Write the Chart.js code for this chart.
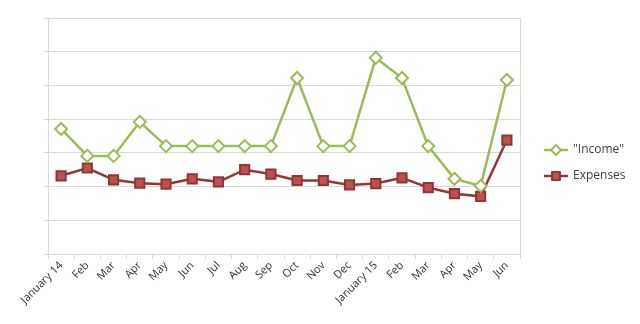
<!DOCTYPE html>
<html>
<head>
<meta charset="utf-8">
<script src="https://cdn.jsdelivr.net/npm/chart.js@4"></script>
<style>
  html, body { margin: 0; padding: 0; background: #fff; }
  #wrap { width: 640px; height: 324px; position: relative; }
</style>
</head>
<body>
<div id="wrap"><canvas id="chart"></canvas></div>
<script>
// categories (months, two years)
const months = ['January 14', 'Feb', 'Mar', 'Apr', 'May', 'Jun', 'Jul', 'Aug', 'Sep', 'Oct', 'Nov', 'Dec',
                'January 15', 'Feb', 'Mar', 'Apr', 'May', 'Jun'];

// series values (axis has no labels, gridline units)
const income   = [3.71, 2.91, 2.91, 3.92, 3.2, 3.2, 3.2, 3.2, 3.2, 5.22, 3.2, 3.2, 5.82, 5.22, 3.2, 2.23, 2.02, 5.16];
const expenses = [2.32, 2.55, 2.2, 2.1, 2.07, 2.23, 2.14, 2.5, 2.37, 2.18, 2.18, 2.05, 2.09, 2.26, 1.97, 1.79, 1.71, 3.38];

const seriesNames = ['"Income"', 'Expenses'];

const GREEN = '#9BBB59';
const RED_LINE = '#953735';
const RED_FILL = '#C0504D';
const GRID = '#D9D9D9';

// legend on the right: short line with the marker on it
const sideLegend = {
    id: 'sideLegend',
    afterDraw(chart) {
        const ctx = chart.ctx;
        const x0 = 544;
        const rows = [150, 176];
        ctx.save();
        chart.data.datasets.forEach((ds, i) => {
            const y = rows[i];
            ctx.strokeStyle = ds.borderColor;
            ctx.lineWidth = 2.5;
            ctx.beginPath();
            ctx.moveTo(x0, y);
            ctx.lineTo(x0 + 24, y);
            ctx.stroke();
            ctx.fillStyle = ds.pointBackgroundColor;
            ctx.strokeStyle = ds.pointBorderColor;
            ctx.lineWidth = ds.pointBorderWidth;
            Chart.helpers.drawPoint(ctx, {
                pointStyle: ds.pointStyle,
                radius: ds.pointRadius - 1,
                borderWidth: ds.pointBorderWidth
            }, x0 + 12, y);
            ctx.fillStyle = '#404040';
            ctx.font = '12px "Open Sans", sans-serif';
            ctx.textBaseline = 'middle';
            ctx.fillText(ds.label, x0 + 29, y);
        });
        ctx.restore();
    }
};

new Chart(document.getElementById('chart'), {
    type: 'line',
    data: {
        labels: months,
        datasets: [{
            label: seriesNames[0],
            data: income,
            borderColor: GREEN,
            borderWidth: 2.5,
            pointStyle: 'rectRot',
            pointRadius: 6,
            pointBorderWidth: 2,
            pointBackgroundColor: '#ffffff',
            pointBorderColor: GREEN,
            tension: 0
        }, {
            label: seriesNames[1],
            data: expenses,
            borderColor: RED_LINE,
            borderWidth: 2.5,
            pointStyle: 'rect',
            pointRadius: 6.5,
            pointBorderWidth: 2,
            pointBackgroundColor: RED_FILL,
            pointBorderColor: '#8C3836',
            tension: 0
        }]
    },
    options: {
        responsive: true,
        maintainAspectRatio: false,
        animation: false,
        layout: { padding: { left: 44, right: 120, top: 18, bottom: 0 } },
        plugins: {
            legend: { display: false },
            tooltip: { enabled: false }
        },
        scales: {
            x: {
                offset: true,
                grid: {
                    offset: true,
                    drawOnChartArea: false,
                    drawTicks: true,
                    tickLength: 5,
                    color: GRID
                },
                border: { color: GRID },
                ticks: {
                    minRotation: 45,
                    maxRotation: 45,
                    color: '#333333',
                    font: { family: '"Open Sans", sans-serif', size: 11 },
                    padding: 0
                },
                afterFit(scale) { scale.height = 70; }
            },
            y: {
                min: 0,
                max: 7,
                ticks: { stepSize: 1, display: false },
                grid: { color: GRID, tickLength: 4, drawTicks: true },
                border: { color: GRID },
                afterFit(scale) { scale.width = 4; }
            },
            yRight: {
                position: 'right',
                min: 0,
                max: 7,
                ticks: { display: false },
                grid: { drawOnChartArea: false, drawTicks: false },
                border: { display: true, color: GRID },
                afterFit(scale) { scale.width = 0; }
            }
        }
    },
    plugins: [sideLegend]
});
</script>
</body>
</html>
